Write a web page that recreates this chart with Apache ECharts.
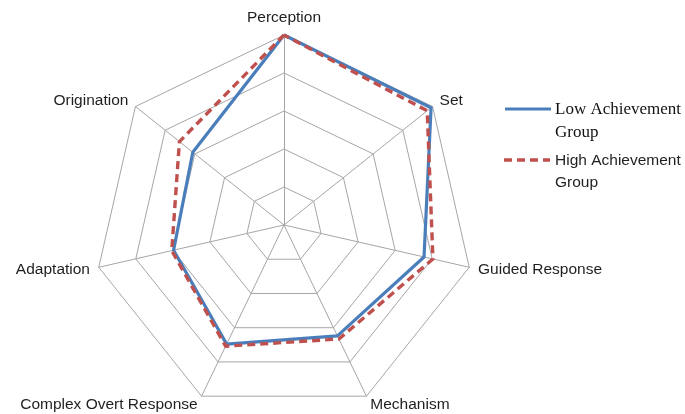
<!DOCTYPE html>
<html>
<head>
<meta charset="utf-8">
<script src="https://cdn.jsdelivr.net/npm/echarts@6/dist/echarts.min.js"></script>
<style>
html,body{margin:0;padding:0;background:#fff;}
#main{width:685px;height:414px;}
</style>
</head>
<body>
<div id="main"></div>
<script>
// Indicators in ECharts order (counter-clockwise starting at top)
var categories = ['Perception', 'Origination', 'Adaptation', 'Complex Overt Response', 'Mechanism', 'Guided Response', 'Set'];
var lowGroup  = [5.0, 3.07, 2.98, 3.48, 3.24, 3.78, 4.95];
var highGroup = [5.0, 3.52, 3.03, 3.54, 3.33, 4.02, 4.82];
var seriesNames = ['Low Achievement Group', 'High Achievement Group'];
var maxValue = 5;

var chart = echarts.init(document.getElementById('main'), null, {renderer: 'canvas'});

var option = {
  backgroundColor: '#ffffff',
  animation: false,
  radar: {
    center: [284, 225],
    radius: 190,
    startAngle: 90,
    splitNumber: 5,
    shape: 'polygon',
    nameGap: 9,
    axisName: {
      color: '#1f1f1f',
      fontSize: 15.5,
      fontFamily: 'Liberation Sans, Arial, sans-serif'
    },
    indicator: categories.map(function (c) { return {name: c, max: maxValue, min: 0}; }),
    splitLine: {lineStyle: {color: '#a6a6a6', width: 1}},
    splitArea: {show: false},
    axisLine: {lineStyle: {color: '#a6a6a6', width: 1}}
  },
  series: [{
    type: 'radar',
    symbol: 'none',
    data: [
      {
        name: seriesNames[0],
        value: lowGroup,
        lineStyle: {color: '#4a7ebb', width: 3.2, type: 'solid'}
      },
      {
        name: seriesNames[1],
        value: highGroup,
        lineStyle: {color: '#c0504d', width: 3.4, type: [8, 5]}
      }
    ]
  }],
  graphic: [
    {type: 'line', shape: {x1: 505, y1: 109, x2: 551, y2: 109}, style: {stroke: '#4a7ebb', lineWidth: 3.2}},
    {type: 'text', left: 555, top: 98, style: {text: 'Low Achievement\nGroup', font: '17px "Liberation Serif", "Times New Roman", serif', fill: '#111', lineHeight: 23}},
    {type: 'line', shape: {x1: 504, y1: 160, x2: 550, y2: 160}, style: {stroke: '#c0504d', lineWidth: 3.4, lineDash: [8, 5]}},
    {type: 'text', left: 555, top: 150, style: {text: 'High Achievement\nGroup', font: '15.5px "Liberation Sans", Arial, sans-serif', fill: '#1f1f1f', lineHeight: 22}}
  ]
};
chart.setOption(option);
</script>
</body>
</html>
